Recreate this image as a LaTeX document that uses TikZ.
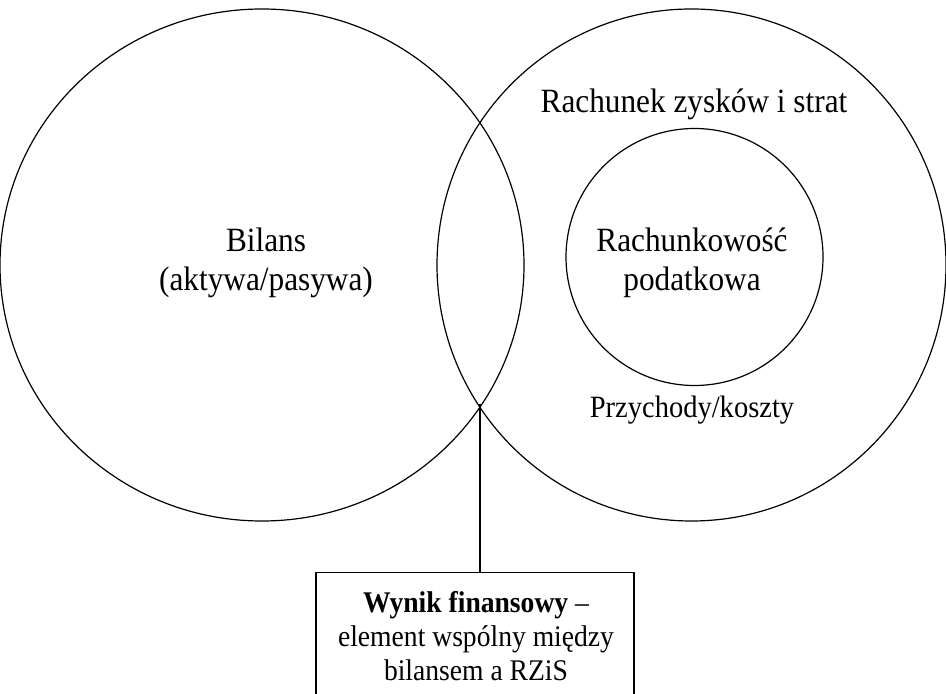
\documentclass[tikz,border=0pt]{standalone}
\usepackage{fontspec}
\setmainfont{Liberation Serif}
\newfontfamily\narrowserif[FakeStretch=0.92]{Liberation Serif}
\begin{document}
\begin{tikzpicture}[x=0.5pt,y=-0.5pt,line width=0.6pt,
  lbl/.style={font=\narrowserif\fontsize{17}{19.5}\selectfont,align=center,inner sep=0pt},
  smalllbl/.style={font=\narrowserif\fontsize{15.5}{17.5}\selectfont,align=center,inner sep=0pt},
  boxlbl/.style={font=\narrowserif\fontsize{15}{17.2}\selectfont,align=center,inner sep=0pt},
  frame/.style={draw,minimum width=159pt,minimum height=80pt,inner sep=0pt}]
\useasboundingbox (0,0) rectangle (946,694);
\clip (0,0) rectangle (946,694);
% two overlapping sets and the nested one
\draw (262,265) ellipse [x radius=262,y radius=256];
\draw (691.5,265) ellipse [x radius=254.5,y radius=256];
\draw (694.5,257) circle [radius=128.5];
% labels
\node[lbl] (bilans) at (266,263) {Bilans\\(aktywa/pasywa)};
\node[lbl] (rzis) at (694,104) {Rachunek zysków i strat};
\node[lbl] (podat) at (692,263) {Rachunkowość\\podatkowa};
\node[smalllbl] (przych) at (692,410) {Przychody/koszty};
% common element box
\coordinate (meet) at (480,404);
\node[frame,anchor=north] (box) at (475,572) {};
\node[boxlbl] (boxtext) at (476,636) {\textbf{Wynik finansowy} –\\element wspólny między\\bilansem a RZiS};
\draw (meet) -- (meet |- box.north);
\end{tikzpicture}
\end{document}
